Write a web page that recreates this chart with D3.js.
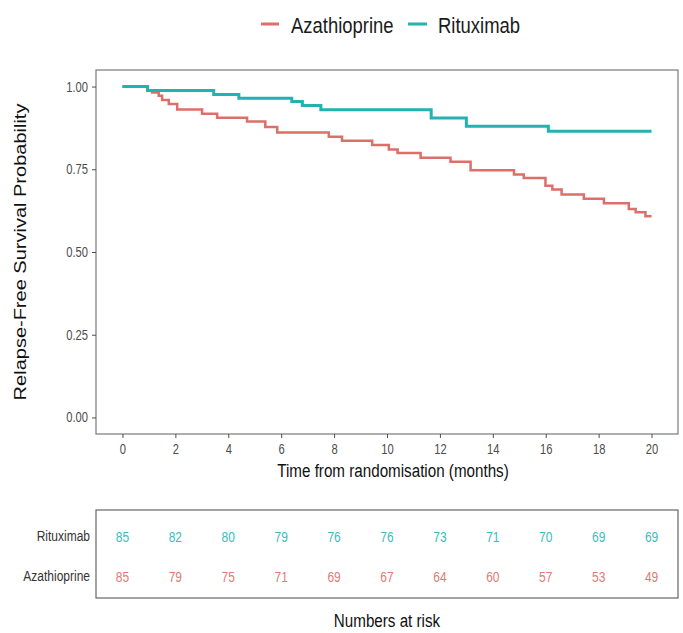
<!DOCTYPE html>
<html><head><meta charset="utf-8">
<script src="https://cdn.jsdelivr.net/npm/d3@7"></script>
<style>body{margin:0;background:#fff;} text{font-family:"Liberation Sans",Arial,sans-serif;}</style>
</head><body><svg id="c" width="683" height="633"></svg>
<script>
// ---- data ----
const groups = ["Azathioprine", "Rituximab"];
const groupColors = ["#DE6E6A", "#22B2B0"];
const riskColors = ["#E07A76", "#3DBBBB"];
const xTicks = [0, 2, 4, 6, 8, 10, 12, 14, 16, 18, 20];
const yTicks = [0, 0.25, 0.5, 0.75, 1];
const azaTime = [0, 0.95, 1.12, 1.37, 1.5, 1.75, 2.07, 3.01, 3.58, 4.71, 5.4, 5.85, 7.8, 8.3, 9.44, 10.07, 10.4, 11.27, 12.4, 13.16, 14.8, 15.17, 15.99, 16.25, 16.6, 17.44, 18.2, 19.14, 19.4, 19.77, 20];
const azaSurv = [1, 0.988, 0.982, 0.972, 0.959, 0.947, 0.931, 0.918, 0.906, 0.894, 0.878, 0.861, 0.848, 0.836, 0.823, 0.81, 0.799, 0.785, 0.773, 0.747, 0.734, 0.724, 0.70, 0.689, 0.674, 0.661, 0.647, 0.63, 0.62, 0.608, 0.608];
const rituxTime = [0, 0.95, 3.45, 4.4, 6.4, 6.8, 7.5, 11.67, 13.0, 16.1, 20];
const rituxSurv = [1, 0.988, 0.976, 0.965, 0.955, 0.943, 0.93, 0.905, 0.88, 0.865, 0.865];
const riskTimes = [0, 2, 4, 6, 8, 10, 12, 14, 16, 18, 20];
const riskRows = ["Rituximab", "Azathioprine"];
const riskRitux = [85, 82, 80, 79, 76, 76, 73, 71, 70, 69, 69];
const riskAza = [85, 79, 75, 71, 69, 67, 64, 60, 57, 53, 49];

// ---- layout ----
const SX = 0.8; // horizontal condensation of text
const svg = d3.select("#c");
const P = {l: 96, r: 678, t: 70, b: 434};
const x = d3.scaleLinear().domain([-1, 21]).range([P.l, P.r]);
const y = d3.scaleLinear().domain([-0.05, 1.05]).range([P.b, P.t]);

function txt(parent, tx, ty, s, size, anchor, fill, sx) {
  return parent.append("text")
    .attr("transform", `translate(${tx},${ty}) scale(${sx == null ? SX : sx},1)`)
    .attr("text-anchor", anchor).attr("font-size", size).attr("fill", fill).text(s);
}

// legend
const leg = svg.append("g");
const legItems = [
  {key: [261, 279], tx: 291, w: 104},
  {key: [408, 427], tx: 438, w: 85}
];
groups.forEach((g, i) => {
  const it = legItems[i];
  leg.append("line").attr("x1", it.key[0]).attr("x2", it.key[1]).attr("y1", 24).attr("y2", 24)
    .attr("stroke", groupColors[i]).attr("stroke-width", 3);
  txt(leg, it.tx, 33, g, 22, "start", "#1a1a1a", 0.84);
});

// panel
svg.append("rect").attr("x", P.l).attr("y", P.t).attr("width", P.r - P.l).attr("height", P.b - P.t)
  .attr("fill", "#fff").attr("stroke", "#7a7a7a").attr("stroke-width", 1.2);

// axes
const ax = svg.append("g").attr("transform", `translate(0,${P.b})`)
  .call(d3.axisBottom(x).tickValues(xTicks).tickFormat(d3.format("d")).tickSize(4).tickPadding(6).tickSizeOuter(0));
const ay = svg.append("g").attr("transform", `translate(${P.l},0)`)
  .call(d3.axisLeft(y).tickValues(yTicks).tickFormat(d3.format(".2f")).tickSize(4).tickPadding(4).tickSizeOuter(0));
[ax, ay].forEach(a => {
  a.select(".domain").remove();
  a.selectAll(".tick line").attr("stroke", "#4d4d4d").attr("stroke-width", 1);
  a.selectAll(".tick text").attr("fill", "#4d4d4d").attr("font-size", 14)
    .attr("font-family", "Liberation Sans, Arial, sans-serif");
});
ax.selectAll(".tick text").attr("transform", `scale(${SX},1)`);
ay.selectAll(".tick text").attr("transform", `scale(${SX},1)`).attr("x", -8 / SX);

// curves
const line = d3.line().x(d => x(d[0])).y(d => y(d[1])).curve(d3.curveStepAfter);
const curves = [d3.zip(azaTime, azaSurv), d3.zip(rituxTime, rituxSurv)];
const widths = [2.5, 3];
curves.forEach((c, i) => {
  svg.append("path").datum(c).attr("d", line).attr("fill", "none")
    .attr("stroke", groupColors[i]).attr("stroke-width", widths[i]);
});

// axis titles
txt(svg, 393, 477, "Time from randomisation (months)", 19, "middle", "#111");
svg.append("text").attr("transform", `translate(26,${(P.t + P.b) / 2}) rotate(-90) scale(1,${SX})`)
  .attr("text-anchor", "middle").attr("font-size", 20).attr("fill", "#111")
  .text("Relapse-Free Survival Probability");

// risk table
const T = {t: 510, b: 598};
const ry = d3.scalePoint().domain(riskRows).range([536, 576]);
svg.append("rect").attr("x", P.l).attr("y", T.t).attr("width", P.r - P.l).attr("height", T.b - T.t)
  .attr("fill", "none").attr("stroke", "#666").attr("stroke-width", 1.2);
const riskData = {"Rituximab": [riskRitux, riskColors[1]], "Azathioprine": [riskAza, riskColors[0]]};
riskRows.forEach(r => {
  txt(svg, 90, ry(r) + 5, r, 15, "end", "#333");
  const [vals, col] = riskData[r];
  vals.forEach((v, j) => txt(svg, x(riskTimes[j]), ry(r) + 5.5, v, 15, "middle", col));
});
txt(svg, 387, 627, "Numbers at risk", 19, "middle", "#111");
</script></body></html>
